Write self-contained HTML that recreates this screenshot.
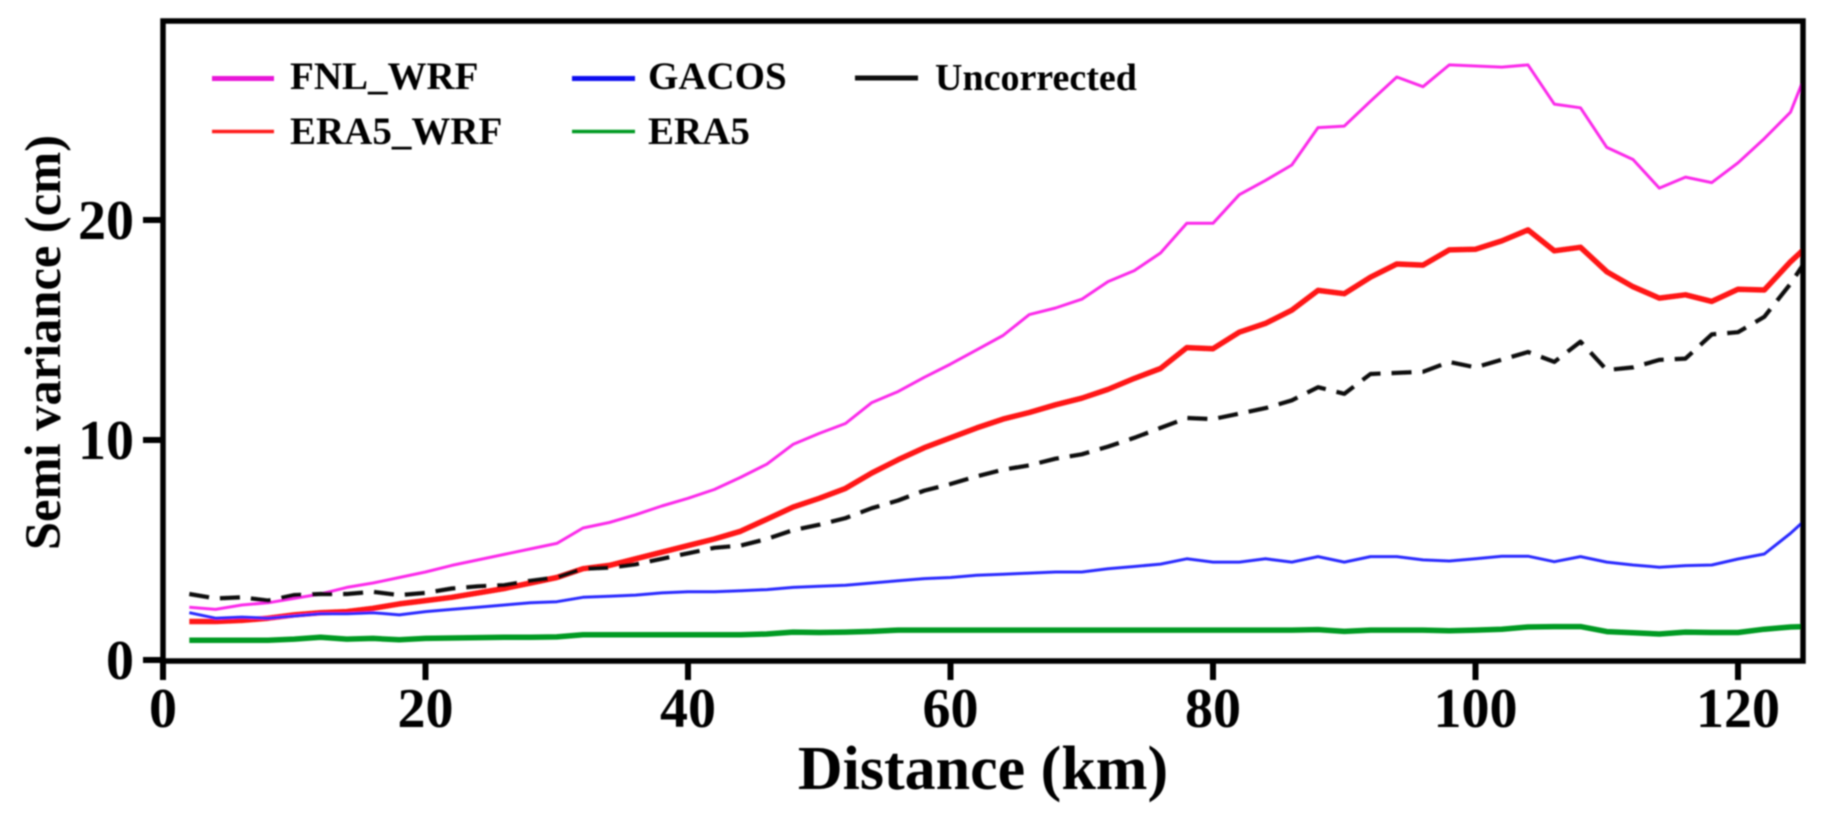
<!DOCTYPE html>
<html lang="en">
<head>
<meta charset="utf-8">
<title>Semi variance vs distance</title>
<style>
html,body{margin:0;padding:0;background:#fff;width:1828px;height:818px;overflow:hidden}
svg{display:block}
text{font-family:"Liberation Serif",serif;font-weight:bold;fill:#000}
</style>
</head>
<body>
<svg id="chart" xmlns="http://www.w3.org/2000/svg" width="1828" height="818" viewBox="0 0 1828 818">
  <defs>
    <filter id="soft" filterUnits="userSpaceOnUse" x="0" y="0" width="1828" height="818">
      <feGaussianBlur stdDeviation="0.8"/>
    </filter>
    <clipPath id="plot-clip"><rect x="163" y="21" width="1640" height="640"/></clipPath>
  </defs>
  <rect width="1828" height="818" fill="#fff"/>
  <g id="root" filter="url(#soft)">
    <g id="series" clip-path="url(#plot-clip)"></g>
    <rect x="163" y="21" width="1640" height="640" fill="none" stroke="#000" stroke-width="5.5"/>
    <g id="x-axis"></g>
    <g id="y-axis"></g>
    <text x="983" y="789" font-size="62" text-anchor="middle">Distance (km)</text>
    <text transform="translate(60 342.5) rotate(-90)" font-size="50.5" text-anchor="middle">Semi variance (cm)</text>
    <g>
      <g>
        <line x1="212" y1="78.5" x2="274" y2="78.5" stroke="#e812d8" stroke-width="5"/>
        <text x="290" y="89" font-size="39">FNL_WRF</text>
      </g>
      <g>
        <line x1="212" y1="131.5" x2="274" y2="131.5" stroke="#ff1a1a" stroke-width="3.5"/>
        <text x="290" y="144" font-size="39">ERA5_WRF</text>
      </g>
      <g>
        <line x1="572" y1="78.5" x2="635" y2="78.5" stroke="#0808f0" stroke-width="5"/>
        <text x="648" y="89" font-size="39">GACOS</text>
      </g>
      <g>
        <line x1="572" y1="131.5" x2="635" y2="131.5" stroke="#009a20" stroke-width="3.5"/>
        <text x="648" y="144" font-size="39">ERA5</text>
      </g>
      <g>
        <line x1="855" y1="78" x2="918" y2="78" stroke="#111" stroke-width="5"/>
        <text x="935" y="90" font-size="38">Uncorrected</text>
      </g>
    </g>
  </g>
</svg>
<script>
const distances = [2,4,6,8,10,12,14,16,18,20,22,24,26,28,30,32,34,36,38,40,42,44,46,48,50,52,54,56,58,60,62,64,66,68,70,72,74,76,78,80,82,84,86,88,90,92,94,96,98,100,102,104,106,108,110,112,114,116,118,120,122,124,125];
const fnlWrf = [2.4,2.3,2.5,2.6,2.8,3.0,3.3,3.5,3.75,4.0,4.3,4.55,4.8,5.05,5.3,6.0,6.25,6.6,7.0,7.35,7.75,8.3,8.9,9.8,10.3,10.75,11.7,12.2,12.85,13.45,14.1,14.75,15.7,16.0,16.4,17.2,17.7,18.5,19.85,19.85,21.15,21.8,22.5,24.2,24.27,25.4,26.5,26.06,27.05,27.0,26.95,27.05,25.27,25.1,23.3,22.75,21.45,21.95,21.7,22.6,23.7,24.9,26.4];
const era5Wrf = [1.75,1.75,1.8,1.9,2.05,2.15,2.2,2.35,2.55,2.7,2.85,3.05,3.25,3.5,3.75,4.15,4.3,4.6,4.9,5.2,5.5,5.85,6.4,6.95,7.35,7.8,8.5,9.1,9.65,10.1,10.55,10.95,11.25,11.6,11.9,12.3,12.8,13.25,14.2,14.15,14.9,15.3,15.9,16.8,16.65,17.4,18.0,17.95,18.64,18.67,19.05,19.55,18.6,18.76,17.65,16.97,16.45,16.6,16.3,16.85,16.82,18.1,18.65];
const gacos = [2.15,1.9,1.95,1.9,2.0,2.1,2.1,2.15,2.05,2.2,2.3,2.4,2.5,2.6,2.65,2.85,2.9,2.95,3.05,3.1,3.1,3.15,3.2,3.3,3.35,3.4,3.5,3.6,3.7,3.75,3.85,3.9,3.95,4.0,4.0,4.15,4.25,4.36,4.6,4.45,4.45,4.6,4.45,4.7,4.45,4.7,4.7,4.55,4.5,4.6,4.72,4.72,4.47,4.7,4.45,4.32,4.22,4.29,4.32,4.59,4.82,5.76,6.3];
const era5 = [0.9,0.9,0.9,0.9,0.95,1.03,0.95,0.98,0.92,0.98,1.0,1.02,1.03,1.03,1.05,1.15,1.15,1.15,1.15,1.15,1.15,1.15,1.18,1.27,1.25,1.27,1.3,1.36,1.36,1.36,1.36,1.36,1.36,1.36,1.36,1.36,1.36,1.36,1.36,1.36,1.36,1.36,1.36,1.38,1.3,1.36,1.36,1.36,1.33,1.36,1.4,1.5,1.52,1.52,1.29,1.24,1.18,1.27,1.25,1.25,1.4,1.5,1.52];
const uncorrected = [3.0,2.8,2.85,2.7,2.95,3.0,3.0,3.1,2.95,3.05,3.25,3.35,3.4,3.6,3.75,4.15,4.2,4.35,4.6,4.85,5.1,5.2,5.5,5.9,6.15,6.45,6.9,7.25,7.7,8.0,8.35,8.65,8.85,9.15,9.35,9.7,10.1,10.55,11.0,10.95,11.2,11.45,11.8,12.4,12.1,13.0,13.05,13.1,13.55,13.3,13.65,14.0,13.55,14.47,13.18,13.3,13.64,13.7,14.8,14.9,15.6,17.1,18.0];
const xTicks = [0,20,40,60,80,100,120];
const yTicks = [0,10,20];

const SVG_NS = 'http://www.w3.org/2000/svg';
function xScale(v){ return 163 + v * 13.125; }
function yScale(v){ return 660 - v * 22; }

const seriesGroup = document.getElementById('series');
function drawSeries(values, color, width, name, dash){
  const path = document.createElementNS(SVG_NS, 'path');
  const d = values.map(function(v, i){
    return (i ? 'L' : 'M') + xScale(distances[i]).toFixed(1) + ' ' + yScale(v).toFixed(1);
  }).join(' ');
  path.setAttribute('d', d);
  path.setAttribute('fill', 'none');
  path.setAttribute('stroke', color);
  path.setAttribute('stroke-width', width);
  path.setAttribute('stroke-linejoin', 'round');
  if (dash) path.setAttribute('stroke-dasharray', dash);
  
  
  seriesGroup.appendChild(path);
}
drawSeries(fnlWrf, '#fb2cea', 3, 'line-fnl-wrf');
drawSeries(era5Wrf, '#ff1212', 5.5, 'line-era5-wrf');
drawSeries(gacos, '#2a2aff', 3, 'line-gacos');
drawSeries(era5, '#009a20', 5.5, 'line-era5');
drawSeries(uncorrected, '#111111', 4.2, 'line-uncorrected', '20 11');

const xAxis = document.getElementById('x-axis');
xTicks.forEach(function(t){
  const tick = document.createElementNS(SVG_NS, 'line');
  tick.setAttribute('x1', xScale(t));
  tick.setAttribute('x2', xScale(t));
  tick.setAttribute('y1', 661);
  tick.setAttribute('y2', 680);
  tick.setAttribute('stroke', '#000');
  tick.setAttribute('stroke-width', 6);
  
  
  xAxis.appendChild(tick);
  const label = document.createElementNS(SVG_NS, 'text');
  label.setAttribute('x', xScale(t));
  label.setAttribute('y', 727);
  label.setAttribute('font-size', 56);
  label.setAttribute('text-anchor', 'middle');
  
  
  label.textContent = t;
  xAxis.appendChild(label);
});

const yAxis = document.getElementById('y-axis');
yTicks.forEach(function(t){
  const tick = document.createElementNS(SVG_NS, 'line');
  tick.setAttribute('x1', 143);
  tick.setAttribute('x2', 163);
  tick.setAttribute('y1', yScale(t));
  tick.setAttribute('y2', yScale(t));
  tick.setAttribute('stroke', '#000');
  tick.setAttribute('stroke-width', 6);
  
  
  yAxis.appendChild(tick);
  const label = document.createElementNS(SVG_NS, 'text');
  label.setAttribute('x', 134);
  label.setAttribute('y', yScale(t) + 19);
  label.setAttribute('font-size', 56);
  label.setAttribute('text-anchor', 'end');
  
  
  label.textContent = t;
  yAxis.appendChild(label);
});
</script>
</body>
</html>
